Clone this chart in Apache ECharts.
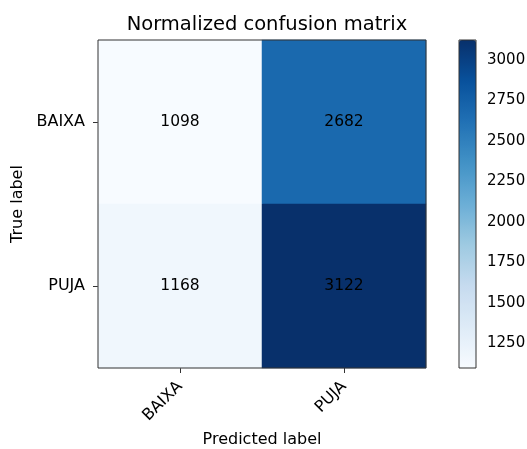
<!DOCTYPE html>
<html>
<head>
<meta charset="utf-8">
<script src="https://cdn.jsdelivr.net/npm/echarts@6/dist/echarts.min.js"></script>
<style>html,body{margin:0;padding:0;background:#fff}#c{width:527px;height:449px}</style>
</head>
<body>
<div id="c"></div>
<script>
const predictedLabels = ['BAIXA', 'PUJA'];
const trueLabels = ['BAIXA', 'PUJA'];
// rows: true label, columns: predicted label
const rowBAIXA = [1098, 2682];
const rowPUJA = [1168, 3122];
const colorbarTicks = [1250, 1500, 1750, 2000, 2250, 2500, 2750, 3000];
const blues = ['#f7fbff','#deebf7','#c6dbef','#9ecae1','#6baed6','#4292c6','#2171b5','#08519c','#08306b'];

const rows = [rowBAIXA, rowPUJA];
const data = [];
rows.forEach((r, yi) => r.forEach((v, xi) => data.push([xi, yi, v])));
const all = rows.flat();
const vmin = Math.min(...all), vmax = Math.max(...all);

const font = 'DejaVu Sans';
const dark = '#333';
const fs = 16;
const chart = echarts.init(document.getElementById('c'), null, {renderer: 'canvas'});
chart.setOption({
  animation: false,
  backgroundColor: '#fff',
  textStyle: {fontFamily: font},
  title: {
    text: 'Normalized confusion matrix',
    left: 262, top: 10, textAlign: 'center',
    textStyle: {fontFamily: font, fontSize: 19.5, fontWeight: 'normal', color: '#000'}
  },
  grid: [
    {left: 98, top: 40, width: 328, height: 328, show: true, borderColor: dark, borderWidth: 1,
     backgroundColor: 'transparent', z: 10, containLabel: false, outerBoundsMode: 'none'},
    {left: 459, top: 40, width: 17, height: 328, show: true, borderColor: dark, borderWidth: 1,
     backgroundColor: 'transparent', z: 10, containLabel: false, outerBoundsMode: 'none'}
  ],
  xAxis: [
    {type: 'category', data: predictedLabels, gridIndex: 0,
     name: 'Predicted label', nameLocation: 'middle', nameGap: 64,
     nameTextStyle: {fontFamily: font, fontSize: fs, color: '#000'},
     axisLine: {show: false},
     axisTick: {show: true, alignWithLabel: true, length: 5, lineStyle: {color: dark}},
     axisLabel: {rotate: 45, margin: 16, fontFamily: font, fontSize: fs, color: '#000'},
     splitLine: {show: false}, splitArea: {show: false}},
    {type: 'value', gridIndex: 1, show: false, min: 0, max: 1}
  ],
  yAxis: [
    {type: 'category', data: trueLabels, gridIndex: 0, inverse: true,
     name: 'True label', nameLocation: 'middle', nameGap: 72, nameRotate: 90,
     nameTextStyle: {fontFamily: font, fontSize: fs, color: '#000'},
     axisLine: {show: false},
     axisTick: {show: true, alignWithLabel: true, length: 5, lineStyle: {color: dark}},
     axisLabel: {margin: 13, fontFamily: font, fontSize: fs, color: '#000'},
     splitLine: {show: false}, splitArea: {show: false}},
    {type: 'value', gridIndex: 1, position: 'right', min: vmin, max: vmax,
     axisLine: {show: false},
     axisTick: {show: true, length: 5, lineStyle: {color: dark}, customValues: colorbarTicks},
     axisLabel: {margin: 11, fontFamily: font, fontSize: 15, color: '#000', customValues: colorbarTicks,
                 formatter: v => String(v)},
     splitLine: {show: false}}
  ],
  visualMap: {
    type: 'continuous', min: vmin, max: vmax, calculable: false, hoverLink: false,
    left: 459, top: 40, itemWidth: 17, itemHeight: 328, padding: 0,
    text: null, textStyle: {color: 'transparent'},
    inRange: {color: blues}, seriesIndex: 0
  },
  series: [{
    type: 'heatmap', xAxisIndex: 0, yAxisIndex: 0, data: data,
    label: {show: true, formatter: p => String(p.value[2]), color: '#000', fontFamily: font, fontSize: 15.5},
    itemStyle: {borderWidth: 0},
    emphasis: {disabled: true}
  }]
});
</script>
</body>
</html>
